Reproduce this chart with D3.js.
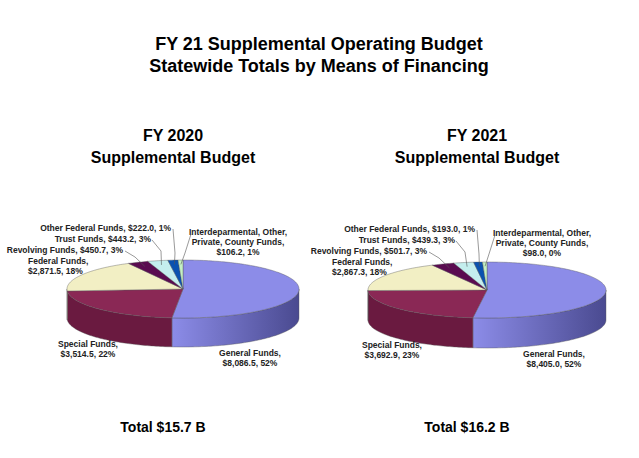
<!DOCTYPE html>
<meta charset="utf-8">
<html>
<head>
<style>
  body { margin: 0; background: #fff; }
  text { font-family: Arial, "Liberation Sans", sans-serif; fill: #000; }
  .lbl { font-size: 8.5px; font-weight: bold; fill: #222; }
</style>
</head>
<body>
<script src="https://cdn.jsdelivr.net/npm/d3@7"></script>
<script>
// data
var categories = ["General Funds", "Special Funds", "Federal Funds", "Revolving Funds",
                  "Trust Funds", "Other Federal Funds", "Interdepartmental, Other, Private, County Funds"];
var values2020 = [8086.5, 3514.5, 2871.5, 450.7, 443.2, 222.0, 106.2];
var values2021 = [8405.0, 3692.9, 2867.3, 501.7, 439.3, 193.0, 98.0];
var pct2020 = ["52%", "22%", "18%", "3%", "3%", "1%", "1%"];
var pct2021 = ["52%", "23%", "18%", "3%", "3%", "1%", "0%"];
var colors = ["#8c8ce8", "#8a2855", "#f2efc4", "#5a0b50", "#c4eeee", "#0a52b0", "#c4f0c4"];
var sideColors = ["#4a4a90", "#6a1a40", "#c8c498", "#3a0634", "#90c0c0", "#063a80", "#90c090"];

var width = 639, height = 458;
var svg = d3.select("body").append("svg").attr("width", width).attr("height", height);

svg.append("text").attr("x", 319).attr("y", 50).attr("text-anchor", "middle")
  .style("font-size", "18px").style("font-weight", "bold").text("FY 21 Supplemental Operating Budget");
svg.append("text").attr("x", 319).attr("y", 72).attr("text-anchor", "middle")
  .style("font-size", "18px").style("font-weight", "bold").text("Statewide Totals by Means of Financing");

var pie = d3.pie().sort(null);

function fmt(v) { return "$" + d3.format(",.1f")(v); }

function drawPie(cfg) {
  var g = svg.append("g");
  var cx = cfg.cx, cy = cfg.cy, rx = cfg.rx, ry = cfg.ry, depth = cfg.depth;
  function pt(a, dy) { return [cx + rx * Math.sin(a), cy - ry * Math.cos(a) + (dy || 0)]; }
  function arcPts(a0, a1, dy) {
    var n = Math.max(2, Math.ceil((a1 - a0) / 0.02)), out = [];
    for (var i = 0; i <= n; i++) out.push(pt(a0 + (a1 - a0) * i / n, dy));
    return out;
  }
  var arcs = pie(cfg.values);
  var line = d3.line();

  // side walls, front half only
  arcs.forEach(function(d, i) {
    var a0 = Math.max(d.startAngle, Math.PI / 2), a1 = Math.min(d.endAngle, 3 * Math.PI / 2);
    if (a1 <= a0) return;
    var grad = svg.append("defs").append("linearGradient")
      .attr("id", "g" + cfg.id + i).attr("x1", "0").attr("x2", "1");
    grad.append("stop").attr("offset", "0").attr("stop-color", colors[i]);
    grad.append("stop").attr("offset", "1").attr("stop-color", sideColors[i]);
    var top = arcPts(a0, a1, 0), bot = arcPts(a0, a1, depth).reverse();
    g.append("path").attr("d", line(top.concat(bot)) + "Z")
      .attr("fill", i === 0 ? "url(#g" + cfg.id + i + ")" : sideColors[i])
      .attr("stroke", "#555").attr("stroke-width", 0.4);
  });
  // top faces
  arcs.forEach(function(d, i) {
    var p = [[cx, cy]].concat(arcPts(d.startAngle, d.endAngle, 0));
    g.append("path").attr("d", line(p) + "Z").attr("fill", colors[i])
      .attr("stroke", "#555").attr("stroke-width", 0.4);
  });

  // labels
  cfg.labels.forEach(function(l, i) {
    var d = arcs[i];
    var mid = (d.startAngle + d.endAngle) / 2;
    var t = g.append("text").attr("class", "lbl").attr("text-anchor", l.anchor)
      .attr("x", cx + l.dx).attr("y", cy + l.dy);
    var v = fmt(cfg.values[i]) + ", " + cfg.pct[i];
    var lines = l.lines ? l.lines.concat([v]) : (l.split ? [categories[i] + ",", v] : [categories[i] + ", " + v]);
    lines.forEach(function(s, k) { t.append("tspan").attr("x", cx + l.dx).attr("dy", k ? 10 : 0).text(s); });
    if (l.lead) {
      var e = pt(mid, 0), r = 0.85;
      var ep = [cx + (e[0] - cx) * r, cy + (e[1] - cy) * r];
      g.append("path").attr("fill", "none").attr("stroke", "#555").attr("stroke-width", 0.6)
        .attr("d", line([[cx + l.lead[0], cy + l.lead[1]], [cx + l.lead[2], cy + l.lead[3]], ep]));
    }
  });

  svg.append("text").attr("x", cx - 10).attr("y", 141).attr("text-anchor", "middle")
    .style("font-size", "16px").style("font-weight", "bold").text(cfg.year);
  svg.append("text").attr("x", cx - 10).attr("y", 163).attr("text-anchor", "middle")
    .style("font-size", "16px").style("font-weight", "bold").text("Supplemental Budget");
  svg.append("text").attr("x", cx - 20).attr("y", 432).attr("text-anchor", "middle")
    .style("font-size", "14px").style("font-weight", "bold").text(cfg.total);
}

function labelLayout() {
  return [
    { dx: 67, dy: 67, anchor: "middle", split: true },
    { dx: -95, dy: 58, anchor: "middle", split: true },
    { dx: -155, dy: -25, anchor: "start", split: true },
    { dx: -60, dy: -36, anchor: "end", lead: [-58, -38, -48, -32] },
    { dx: -32, dy: -47, anchor: "end", lead: [-31, -49, -22, -38] },
    { dx: -12, dy: -58, anchor: "end", lead: [-10, -60, -8, -36] },
    { dx: 55, dy: -54, anchor: "middle", lines: ["Interdeparmental, Other,", "Private, County Funds,"], lead: [8, -55, 2, -36] }
  ];
}

drawPie({ id: "a", cx: 183, cy: 289, rx: 116, ry: 29, depth: 29, values: values2020, pct: pct2020,
  year: "FY 2020", total: "Total $15.7 B", labels: labelLayout() });
drawPie({ id: "b", cx: 487, cy: 290, rx: 119, ry: 28, depth: 30, values: values2021, pct: pct2021,
  year: "FY 2021", total: "Total $16.2 B", labels: labelLayout() });
</script>
</body>
</html>
